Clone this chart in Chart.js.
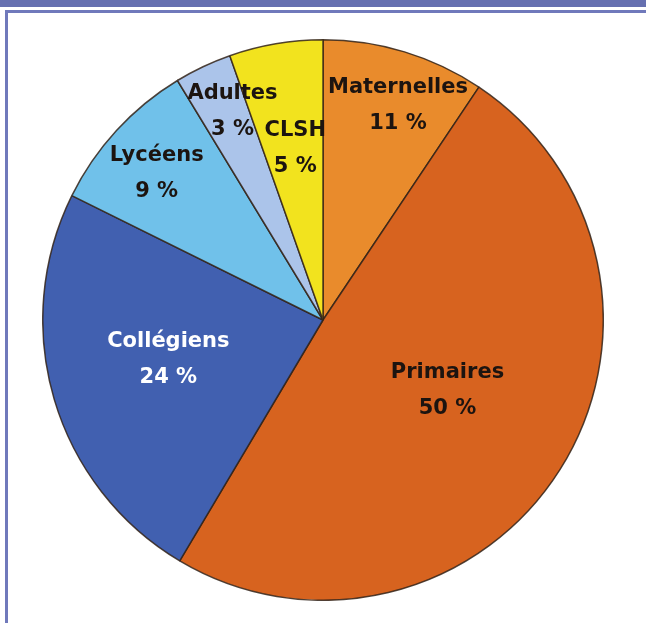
<!DOCTYPE html>
<html>
<head>
  <meta charset="utf-8">
  <title>Répartition des publics</title>
  <script src="https://cdn.jsdelivr.net/npm/chart.js"></script>
  <style>
    body {
      margin: 0;
      background: #fff;
      width: 646px;
      height: 623px;
      position: relative;
      overflow: hidden;
      font-family: "DejaVu Sans", sans-serif;
    }
    .band {
      position: absolute;
      left: 0; top: 0;
      width: 646px; height: 7px;
      background: #6670b0;
    }
    .frame {
      position: absolute;
      left: 5px; top: 10px;
      width: 660px; height: 640px;
      border-top: 3px solid #7079bb;
      border-left: 3px solid #7079bb;
    }
    #pie {
      position: absolute;
      left: 42px;
      top: 39px;
    }
  </style>
</head>
<body>
  <div class="band"></div>
  <div class="frame"></div>
  <canvas id="pie" width="562" height="562"></canvas>

  <script>
    // clockwise from 12 o'clock
    const categories = ['Maternelles', 'Primaires', 'Collégiens', 'Lycéens', 'Adultes', 'CLSH'];
    // slice sizes as measured on the picture (share of the full circle, %)
    const sliceValues = [9.4, 49.2, 23.8, 9.0, 3.3, 5.4];
    // percentages printed on the chart
    const percentLabels = ['11 %', '50 %', '24 %', '9 %', '3 %', '5 %'];

    const sliceColors = ['#e98b2c', '#d7631f', '#4160b0', '#70c1ea', '#abc4ea', '#f2e31e'];
    const textColors = ['#1c1410', '#1c1410', '#ffffff', '#1c1410', '#1c1410', '#1c1410'];
    // label placement: angle from top (deg, clockwise) and distance as share of radius
    const labelPlace = [[19.3, 0.81], [119.4, 0.51], [255.5, 0.57], [311.3, 0.79], [336.5, 0.81], [350.8, 0.62]];

    const pieLabels = {
      id: 'pieLabels',
      afterDatasetsDraw(chart) {
        const ctx = chart.ctx;
        const meta = chart.getDatasetMeta(0);
        ctx.save();
        ctx.font = 'bold 21px "DejaVu Sans", sans-serif';
        ctx.textAlign = 'center';
        ctx.textBaseline = 'middle';
        meta.data.forEach((arc, i) => {
          const a = labelPlace[i][0] * Math.PI / 180;
          const d = labelPlace[i][1] * arc.outerRadius;
          const x = arc.x + d * Math.sin(a);
          const y = arc.y - d * Math.cos(a);
          ctx.fillStyle = textColors[i];
          ctx.fillText(categories[i], x, y - 18);
          ctx.fillText(percentLabels[i], x, y + 18);
        });
        ctx.restore();
      }
    };

    new Chart(document.getElementById('pie'), {
      type: 'pie',
      data: {
        labels: categories,
        datasets: [{
          data: sliceValues,
          backgroundColor: sliceColors,
          borderColor: 'rgba(50,35,25,0.85)',
          borderWidth: 1.5
        }]
      },
      options: {
        responsive: false,
        animation: false,
        layout: { padding: 0 },
        plugins: {
          legend: { display: false },
          tooltip: { enabled: false }
        }
      },
      plugins: [pieLabels]
    });
  </script>
</body>
</html>
